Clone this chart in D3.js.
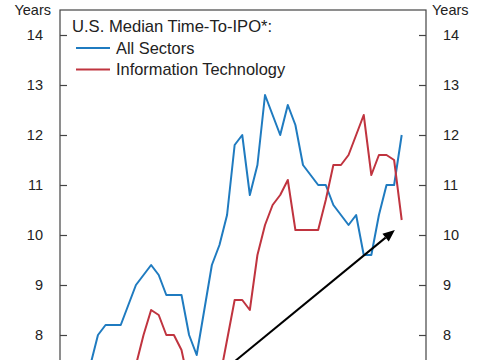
<!DOCTYPE html>
<html>
<head>
<meta charset="utf-8">
<script src="https://cdn.jsdelivr.net/npm/d3@7"></script>
<style>
  body { margin: 0; background: #fff; }
  svg { display: block; font-family: "Liberation Sans", Arial, sans-serif; }
</style>
</head>
<body>
<div id="chart"></div>
<script>
// period index (x) and median years to IPO
const allStart = 4;
const allSectors = [7.4, 8.0, 8.2, 8.2, 8.2, 8.6, 9.0, 9.2, 9.4, 9.2, 8.8, 8.8, 8.8, 8.0, 7.6, 8.5,
    9.4, 9.8, 10.4, 11.8, 12.0, 10.8, 11.4, 12.8, 12.4, 12.0, 12.6, 12.2, 11.4, 11.2, 11.0, 11.0,
    10.6, 10.4, 10.2, 10.4, 9.6, 9.6, 10.4, 11.0, 11.0, 12.0];
const itStart = 10;
const infoTech = [7.4, 8.0, 8.5, 8.4, 8.0, 8.0, 7.7, 7.0, 6.8, 6.8, 6.9, 7.1, 7.9, 8.7, 8.7, 8.5,
    9.6, 10.2, 10.6, 10.8, 11.1, 10.1, 10.1, 10.1, 10.1, 10.7, 11.4, 11.4, 11.6, 12.0, 12.4, 11.2,
    11.6, 11.6, 11.5, 10.3];
const yTicks = [8, 9, 10, 11, 12, 13, 14];
const seriesNames = ["All Sectors", "Information Technology"];
const arrowFrom = [15.2, 6.5];
const arrowTo = [44.1, 10.1];

const width = 485, height = 360;
const colors = ["#1f7bc0", "#c0343f"];

const svg = d3.select("#chart").append("svg")
    .attr("width", width)
    .attr("height", height);

const x = d3.scaleLinear().domain([0, 48.2]).range([60, 426]);
const y = d3.scaleLinear().domain([6, 14]).range([435, 35]);

const plotTop = y(14.5), plotBottom = y(6);

// frame
svg.append("rect")
    .attr("x", x(0))
    .attr("y", plotTop)
    .attr("width", x(48.2) - x(0))
    .attr("height", plotBottom - plotTop)
    .attr("fill", "none")
    .attr("stroke", "#444")
    .attr("stroke-width", 1.2);

// axes, ticks pointing inside the frame
const leftAxis = d3.axisLeft(y).tickValues(yTicks).tickSize(-7).tickPadding(17);
const rightAxis = d3.axisRight(y).tickValues(yTicks).tickSize(-7).tickPadding(17);

svg.append("g").attr("transform", `translate(${x(0)},0)`).call(leftAxis);
svg.append("g").attr("transform", `translate(${x(48.2)},0)`).call(rightAxis);

svg.selectAll(".domain").remove();
svg.selectAll(".tick line").attr("stroke", "#444").attr("stroke-width", 1.2);
svg.selectAll(".tick text")
    .attr("fill", "#222")
    .style("font-size", "14.5px");

svg.append("text")
    .attr("x", 51).attr("y", 15)
    .attr("text-anchor", "end")
    .attr("fill", "#222")
    .style("font-size", "14.5px")
    .text("Years");

svg.append("text")
    .attr("x", 432).attr("y", 15)
    .attr("fill", "#222")
    .style("font-size", "14.5px")
    .text("Years");

// series lines
const line = d3.line()
    .x(d => x(d[0]))
    .y(d => y(d[1]));

svg.append("clipPath").attr("id", "plot-clip")
    .append("rect")
    .attr("x", x(0)).attr("y", plotTop)
    .attr("width", x(48.2) - x(0)).attr("height", plotBottom - plotTop);

const plot = svg.append("g").attr("clip-path", "url(#plot-clip)");

plot.append("path")
    .datum(allSectors.map((v, i) => [allStart + i, v]))
    .attr("d", line)
    .attr("fill", "none")
    .attr("stroke", colors[0])
    .attr("stroke-width", 2)
    .attr("stroke-linejoin", "round");

plot.append("path")
    .datum(infoTech.map((v, i) => [itStart + i, v]))
    .attr("d", line)
    .attr("fill", "none")
    .attr("stroke", colors[1])
    .attr("stroke-width", 2)
    .attr("stroke-linejoin", "round");

// arrow
const x1 = x(arrowFrom[0]), y1 = y(arrowFrom[1]);
const x2 = x(arrowTo[0]), y2 = y(arrowTo[1]);
const ang = Math.atan2(y2 - y1, x2 - x1);
const headLen = 12, headW = 5;
const bx = x2 - headLen * Math.cos(ang), by = y2 - headLen * Math.sin(ang);

plot.append("line")
    .attr("x1", x1).attr("y1", y1)
    .attr("x2", bx).attr("y2", by)
    .attr("stroke", "#000")
    .attr("stroke-width", 2);

plot.append("path")
    .attr("d", `M${x2},${y2}L${bx + headW * Math.sin(ang)},${by - headW * Math.cos(ang)}L${bx - headW * Math.sin(ang)},${by + headW * Math.cos(ang)}Z`)
    .attr("fill", "#000");

// legend
const legend = svg.append("g");

legend.append("text")
    .attr("x", 72).attr("y", 32)
    .attr("fill", "#222")
    .style("font-size", "16.6px")
    .text("U.S. Median Time-To-IPO*:");

seriesNames.forEach((name, i) => {
    const ly = 48 + i * 21.5;
    legend.append("line")
        .attr("x1", 76).attr("x2", 110)
        .attr("y1", ly).attr("y2", ly)
        .attr("stroke", colors[i])
        .attr("stroke-width", 2);
    legend.append("text")
        .attr("x", 116).attr("y", ly + 5.5)
        .attr("fill", "#222")
        .style("font-size", "16.4px")
        .text(name);
});
</script>
</body>
</html>
